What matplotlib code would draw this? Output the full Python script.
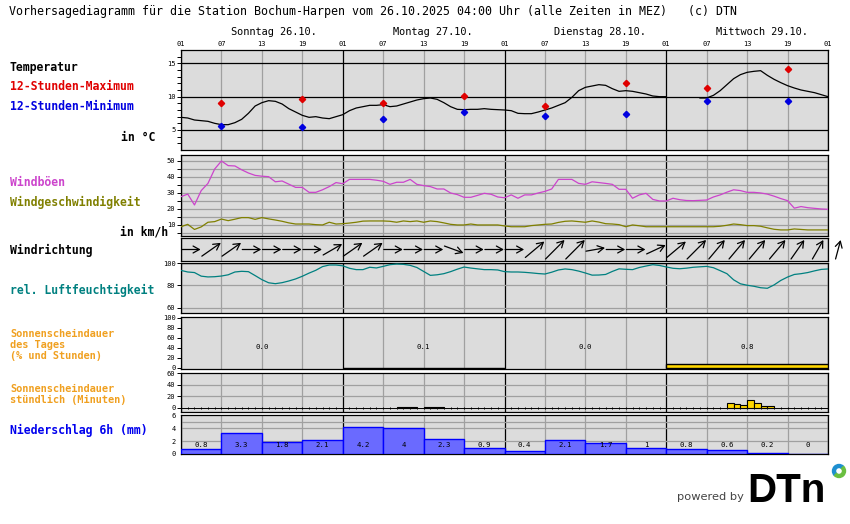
import numpy as np
import matplotlib
matplotlib.use("Agg")
import matplotlib.pyplot as plt
from matplotlib.patches import Wedge
from matplotlib.transforms import blended_transform_factory

# ---- data (hour 0 = Sonntag 01 Uhr, hourly up to Donnerstag 01 Uhr) ----
days = ["Sonntag 26.10.", "Montag 27.10.", "Dienstag 28.10.", "Mittwoch 29.10."]
hour_labels = ["01", "07", "13", "19"]

temp = [6.9, 6.8, 6.5, 6.4, 6.3, 6.0, 5.8, 5.8, 6.1, 6.6, 7.5, 8.6, 9.1, 9.4, 9.3, 8.9,
        8.2, 7.7, 7.2, 6.9, 7.0, 6.8, 6.7, 7.0, 7.3, 7.9, 8.3, 8.5, 8.7, 8.7, 8.8, 8.5,
        8.6, 8.9, 9.2, 9.5, 9.7, 9.8, 9.6, 9.1, 8.5, 8.1, 8.05, 8.1, 8.1, 8.2, 8.1, 8.05,
        8.0, 7.9, 7.5, 7.45, 7.45, 7.7, 8.0, 8.3, 8.7, 9.1, 9.9, 10.9, 11.4, 11.6, 11.8, 11.7,
        11.2, 10.8, 10.9, 10.8, 10.6, 10.4, 10.1, 10.0, 10.0, np.nan, np.nan, np.nan, np.nan, 9.8, 9.8, 10.2,
        10.9, 11.8, 12.7, 13.3, 13.65, 13.8, 13.9, 13.2, 12.6, 12.1, 11.65, 11.3, 11.0, 10.8, 10.6, 10.3,
        10.0]
tmax_hours = [6, 18, 30, 42, 54, 66, 78, 90]
tmax = [9.05, 9.7, 9.05, 10.15, 8.65, 12.05, 11.3, 14.15]
tmin = [5.65, 5.45, 6.65, 7.7, 7.1, 7.4, 9.4, 9.4]

gust = [27.7, 29.3, 22.5, 31.5, 36, 45, 50, 47.1, 46.9, 44.5, 42.5, 41, 40.5, 40.2, 37, 37.5,
        35.5, 33.5, 33.5, 30.4, 30.4, 32, 34, 36.5, 35.8, 38.5, 38.5, 38.5, 38.5, 38, 37.3, 35.4,
        36.7, 36.7, 38.5, 35.4, 34.6, 34, 32.5, 32.5, 30, 29, 27.3, 27.3, 28.5, 29.8, 29.2, 27.5,
        27, 28.8, 26.7, 28.8, 28.8, 30, 31, 32.5, 38.5, 38.5, 38.5, 36, 35.4, 37, 36.5, 36,
        35.4, 32.3, 32.3, 26.7, 28.8, 29.8, 26, 25, 25, 26.7, 25.8, 25.3, 25.2, 25.4, 25.6, 27.5,
        28.8, 30.5, 32, 31.5, 30.4, 30.4, 30, 29.3, 28, 26.5, 25.2, 20.5, 21.5, 20.8, 20.4, 20,
        19.8]
wind = [8.9, 10.4, 7.2, 8.8, 11.7, 12.1, 13.7, 12.7, 13.6, 14.6, 14.6, 13.5, 14.6, 13.8, 13.1, 12.3,
        11.3, 10.6, 10.6, 10.6, 10.2, 10, 11.7, 10.6, 10.8, 11.2, 11.7, 12.4, 12.5, 12.5, 12.5, 12.3,
        11.7, 12.5, 12.1, 12.5, 11.7, 12.5, 12.1, 11.3, 10.4, 10, 10, 10.6, 10, 10, 10, 10,
        9.4, 8.9, 8.9, 8.9, 9.6, 10, 10.4, 10.6, 11.6, 12.3, 12.5, 12.1, 11.7, 12.5, 11.8, 10.8,
        10.6, 10.2, 8.9, 10, 9.5, 8.9, 8.9, 8.9, 8.9, 8.9, 8.9, 8.9, 8.9, 8.9, 8.9, 8.9,
        9.2, 9.8, 10.6, 10.2, 9.6, 9.6, 9.2, 8.2, 7.3, 6.9, 6.9, 7.5, 7.2, 6.9, 6.9, 6.9,
        6.9]
wind_dir_hours = list(range(0, 97, 3))
wind_dir = [270, 235, 235, 270, 270, 270, 270, 240,
            235, 235, 270, 270, 270, 290, 270, 270,
            270, 230, 225, 225, 260, 270, 270, 245,
            230, 225, 220, 220, 220, 220, 215, 210,
            195]

humidity = [93.4, 92, 91.5, 88.3, 87.6, 87.8, 88.4, 89.5, 92, 92.6, 92.3, 88.8, 85.2, 82.4, 81.6, 82.5,
            84, 85.8, 88.2, 91, 93.5, 96.8, 98.2, 98.2, 97.5, 95.3, 94.1, 94.1, 96.2, 95.6, 97, 98.5,
            99.1, 98.8, 97.9, 96, 92.5, 89, 89.5, 90.5, 92.3, 94.5, 96.4, 95.5, 94.8, 94.1, 94.1, 93.8,
            92.3, 92, 92, 91.7, 91.2, 90.6, 90.2, 91.8, 93.8, 94.7, 94.1, 92.8, 91.1, 89.2, 89.3, 89.8,
            92.5, 94.8, 94.4, 94.1, 96, 97.3, 98.5, 97.8, 96.5, 95.3, 94.9, 95.4, 96.2, 96.6, 97, 95.8,
            93.2, 90.5, 85, 81.5, 80.2, 79.3, 78, 77.5, 80.5, 84.5, 87.5, 89.8, 90.5, 91.5, 93, 94.3,
            94.7]

sun_day_hours = [0.0, 0.1, 0.0, 0.8]
sun_day_pct = [0, 1, 0, 9]

sun_hour_start = [32, 33, 34, 36, 37, 38, 81, 82, 83, 84, 85, 86, 87]
sun_minutes = [1, 1, 1, 1, 1, 1, 9, 7, 5, 13, 8, 3, 3]

precip_start = list(range(0, 96, 6))
precip = [0.8, 3.3, 1.8, 2.1, 4.2, 4, 2.3, 0.9, 0.4, 2.1, 1.7, 1, 0.8, 0.6, 0.2, 0]

# ---- figure ----
W, H = 850, 524
fig = plt.figure(figsize=(W / 100, H / 100), dpi=100)
MONO = "DejaVu Sans Mono"
BG = "#dcdcdc"
GRID = "#a0a0a0"
X0, X1 = 181, 828
PXH = (X1 - X0) / 96.0


def panel(top, bottom):
    ax = fig.add_axes([X0 / W, 1 - bottom / H, (X1 - X0) / W, (bottom - top) / H])
    ax.set_facecolor(BG)
    ax.set_xlim(0, 96)
    ax.tick_params(axis="x", bottom=False, labelbottom=False)
    ax.tick_params(axis="y", labelsize=5, length=3, width=0.7, pad=1)
    for s in ax.spines.values():
        s.set_linewidth(0.9)
    for h in range(0, 97, 6):
        if h % 24 == 0:
            ax.axvline(h, color="black", lw=0.9, zorder=1)
        else:
            ax.axvline(h, color=GRID, lw=0.9, zorder=1)
    return ax


def yt(ax, ticks):
    ax.set_yticks(ticks)
    ax.set_yticklabels([str(t) for t in ticks], family=MONO, fontsize=5)


hours = np.arange(97)

# temperature
ax_t = panel(50, 150)
ax_t.set_ylim(2, 17)
for v in (5, 10, 15):
    ax_t.axhline(v, color="black", lw=0.9, zorder=1)
ax_t.plot(hours, temp, color="black", lw=0.9, zorder=3)
ax_t.plot(tmax_hours, tmax, "D", color="#e00000", ms=3.2, zorder=4)
ax_t.plot(tmax_hours, tmin, "D", color="#0000e0", ms=3.2, zorder=4)
yt(ax_t, [5, 10, 15])
ax_t.set_yticks(range(3, 17), minor=True)
ax_t.tick_params(axis="y", which="minor", length=3, width=0.7)
ax_t.set_xticks(range(0, 97, 6))
ax_t.set_xticklabels([hour_labels[(h // 6) % 4] for h in range(0, 97, 6)], family=MONO, fontsize=5)
ax_t.tick_params(axis="x", top=True, labeltop=True, bottom=False, labelbottom=False, length=0, pad=2)
tr = blended_transform_factory(ax_t.transData, ax_t.transAxes)
for k, d in enumerate(days):
    ax_t.text(24 * k + 50 / PXH, 1.18, d, transform=tr, family=MONO, fontsize=7.4,
              ha="left", va="center")

# wind
ax_w = panel(155, 236)
ax_w.set_ylim(3.1, 53.75)
for v in range(5, 55, 5):
    ax_w.axhline(v, color=GRID, lw=0.9, zorder=1)
ax_w.plot(hours, gust, color="#cc44cc", lw=0.9, zorder=3)
ax_w.plot(hours, wind, color="#808000", lw=0.9, zorder=3)
yt(ax_w, [10, 20, 30, 40, 50])
ax_w.set_yticks(range(5, 55, 5), minor=True)
ax_w.tick_params(axis="y", which="minor", length=3, width=0.7)

# wind direction
ax_d = panel(238, 261)
ax_d.set_ylim(0, 23)
ax_d.set_yticks([])
for h, d in zip(wind_dir_hours, wind_dir):
    a = np.deg2rad(270 - d)
    L = 19 / max(abs(np.cos(a)), abs(np.sin(a)))
    dx = L * np.cos(a) / PXH
    dy = L * np.sin(a)
    xc, yc = h + 1.5, 11.5
    ax_d.annotate("", xy=(xc + dx / 2, yc + dy / 2), xytext=(xc - dx / 2, yc - dy / 2),
                  arrowprops=dict(arrowstyle="->,head_length=0.45,head_width=0.25",
                                  color="black", lw=0.9, shrinkA=0, shrinkB=0),
                  annotation_clip=False, zorder=3)

# humidity
ax_h = panel(263, 313)
ax_h.set_ylim(55.5, 100)
ax_h.axhline(100, color="black", lw=0.9)
for v in (60, 80):
    ax_h.axhline(v, color=GRID, lw=0.9, zorder=1)
ax_h.plot(hours, humidity, color="#008080", lw=0.9, zorder=3)
yt(ax_h, [60, 80, 100])

# sunshine per day
ax_s = panel(317, 369)
ax_s.set_ylim(-2, 102)
for k, (hrs, pct) in enumerate(zip(sun_day_hours, sun_day_pct)):
    if pct > 0:
        ax_s.bar(24 * k, pct, width=24, align="edge", color="#ffd700",
                 edgecolor="black", lw=1.0, zorder=3)
    ax_s.text(24 * k + 12, 42, f"{hrs:.1f}", family=MONO, fontsize=5.3,
              ha="center", va="center", zorder=4)
yt(ax_s, [0, 20, 40, 60, 80, 100])

# sunshine per hour
ax_sh = panel(373, 412)
ax_sh.set_ylim(-6.9, 60)
for v in (20, 40):
    ax_sh.axhline(v, color=GRID, lw=0.9, zorder=1)
ax_sh.axhline(0, color="black", lw=0.7, zorder=2)
ax_sh.vlines(hours, -1.8, 1.8, color="black", lw=0.7, zorder=2)
ax_sh.bar(sun_hour_start, sun_minutes, width=1, align="edge", color="#ffd700",
          edgecolor="black", lw=0.8, zorder=3)
yt(ax_sh, [0, 20, 40, 60])

# precipitation
ax_p = panel(415, 454)
ax_p.set_ylim(0, 6)
for v in (2, 4, 5):
    ax_p.axhline(v, color=GRID, lw=0.9, zorder=1)
ax_p.bar(precip_start, precip, width=6, align="edge", color="#6a6aff",
         edgecolor="#0000ff", lw=1.0, zorder=3)
for s, v in zip(precip_start, precip):
    ax_p.text(s + 3, 1.4, f"{v:g}", family=MONO, fontsize=5.3, ha="center",
              va="center", zorder=4)
yt(ax_p, [0, 2, 4, 6])
ax_p.tick_params(axis="y", length=0, pad=4)


# ---- texts ----
def ftext(x, y, s, color="black", ha="left", **kw):
    fig.text(x / W, 1 - y / H, s, color=color, ha=ha, va="center", family=MONO, **kw)


ftext(9, 12, "Vorhersagediagramm für die Station Bochum-Harpen vom 26.10.2025 04:00 Uhr "
             "(alle Zeiten in MEZ)   (c) DTN", fontsize=8.4)
B = dict(fontsize=8.3, weight="bold")
ftext(10, 67, "Temperatur", **B)
ftext(10, 87, "12-Stunden-Maximum", color="#e00000", **B)
ftext(10, 107, "12-Stunden-Minimum", color="#0000e0", **B)
ftext(155, 137, "in °C", ha="right", **B)
ftext(10, 182, "Windböen", color="#cc44cc", **B)
ftext(10, 202, "Windgeschwindigkeit", color="#808000", **B)
ftext(168, 232, "in km/h", ha="right", **B)
ftext(10, 250, "Windrichtung", **B)
ftext(10, 290, "rel. Luftfeuchtigkeit", color="#008080", **B)
S = dict(fontsize=7.4, weight="bold")
for y, s in zip([334, 345, 356], ["Sonnenscheindauer", "des Tages", "(% und Stunden)"]):
    ftext(10, y, s, color="#f0a020", **S)
for y, s in zip([389, 400], ["Sonnenscheindauer", "stündlich (Minuten)"]):
    ftext(10, y, s, color="#f0a020", **S)
ftext(10, 430, "Niederschlag 6h (mm)", color="#0000ee", **B)

# logo
fig.text(677 / W, 1 - 497 / H, "powered by", color="#444444", family="DejaVu Sans",
         fontsize=8.2, ha="left", va="center")
fig.text(747 / W, 1 - 502 / H, "DTn", color="black", family="Liberation Sans",
         weight="bold", fontsize=29, ha="left", va="baseline")
cx, cy = 839 / 100, (H - 471) / 100
fig.patches.append(Wedge((cx, cy), 0.065, 45, 225, width=0.03, color="#1e8fd0",
                         transform=fig.dpi_scale_trans))
fig.patches.append(Wedge((cx, cy), 0.065, 225, 405, width=0.03, color="#6abf40",
                         transform=fig.dpi_scale_trans))

fig.savefig("out.png", dpi=100, facecolor="white")
